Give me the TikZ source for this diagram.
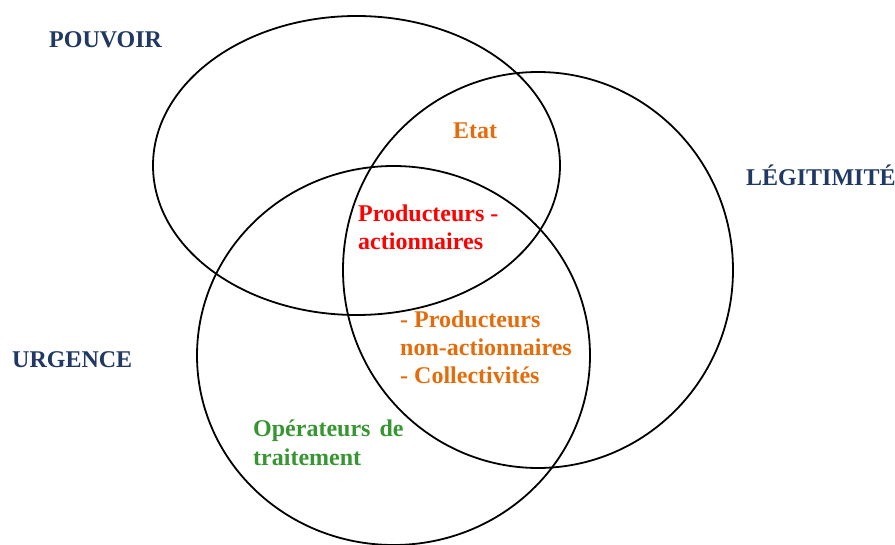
\documentclass[tikz,border=0pt]{standalone}
\usepackage{fontspec}
\setmainfont{Liberation Serif}
\definecolor{navy}{RGB}{31,56,100}
\definecolor{orangeT}{RGB}{228,108,10}
\definecolor{redT}{RGB}{255,0,0}
\definecolor{greenT}{RGB}{55,150,50}
\begin{document}
\begin{tikzpicture}[x=1pt,y=-1pt,
  lbl/.style={anchor=base west, inner sep=0pt, font=\fontsize{24}{28}\selectfont\bfseries},
  ring/.style={draw=black, line width=1.8pt}]
\useasboundingbox (0,0) rectangle (895,545);
% ellipses
\draw[ring] (356.5,165.5) ellipse [x radius=203.5pt, y radius=149.5pt];
\draw[ring] (538,270) ellipse [x radius=195pt, y radius=198pt];
\draw[ring] (393.5,355.5) ellipse [x radius=196.5pt, y radius=189.5pt];
% category labels
\node[lbl, text=navy] (pouvoir) at (49,48) {POUVOIR};
\node[lbl, text=navy] (legit) at (746,186) {LÉGITIMITÉ};
\node[lbl, text=navy] (urgence) at (12,368) {URGENCE};
% inner labels
\node[lbl, text=orangeT] (etat) at (453,139) {Etat};
\node[lbl, text=redT] (pa1) at (358,222) {Producteurs -};
\node[lbl, text=redT] (pa2) at (358,250) {actionnaires};
\node[lbl, text=orangeT] (pn1) at (400,328) {- Producteurs};
\node[lbl, text=orangeT] (pn2) at (400,356) {non-actionnaires};
\node[lbl, text=orangeT] (pn3) at (400,384) {- Collectivités};
\node[lbl, text=greenT] (op1) at (253,437) {Opérateurs\hspace{3pt} de};
\node[lbl, text=greenT] (op2) at (253,465) {traitement};
\end{tikzpicture}
\end{document}
